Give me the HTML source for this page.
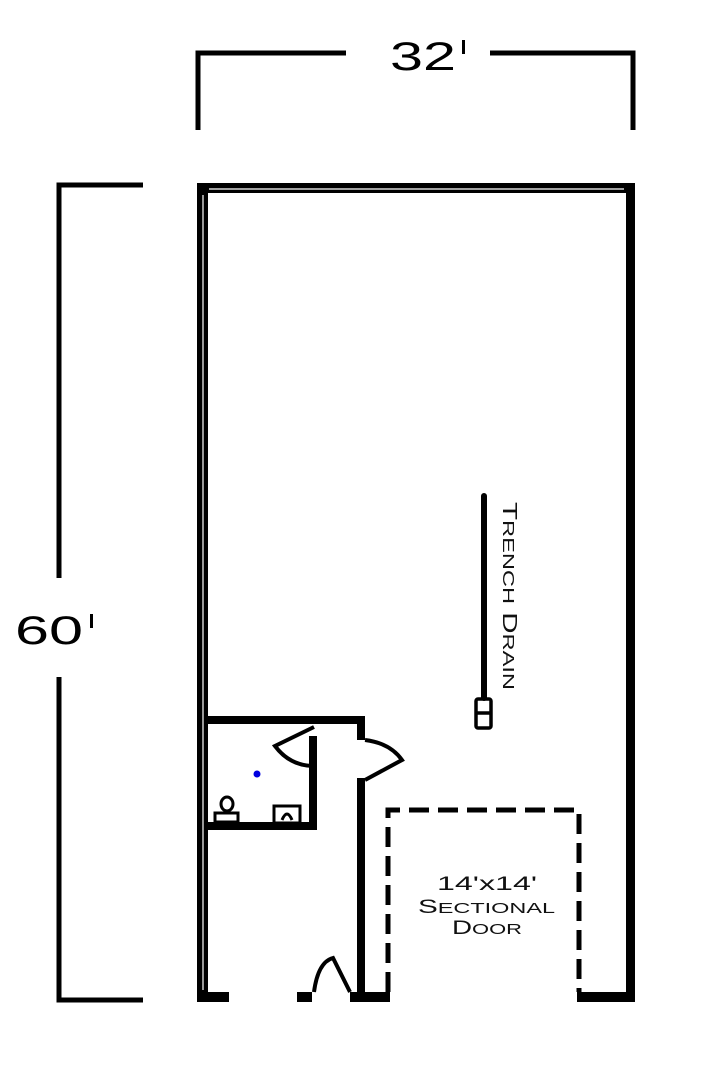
<!DOCTYPE html>
<html><head><style>body{margin:0;background:#fff}svg{display:block}</style></head><body>
<svg width="703" height="1080" viewBox="0 0 703 1080" xmlns="http://www.w3.org/2000/svg">
<g fill="none" stroke="#000" stroke-width="5">
<polyline points="198,130 198,53 346,53"/>
<polyline points="490,53 633,53 633,130"/>
<polyline points="143,185 59,185 59,578"/>
<polyline points="59,677 59,1000 143,1000"/>
</g>
<text x="390" y="70" font-family="Liberation Sans, sans-serif" font-size="40" textLength="66" lengthAdjust="spacingAndGlyphs">32</text>
<rect x="462" y="40" width="3" height="14" fill="#000"/>
<text x="15" y="644" font-family="Liberation Sans, sans-serif" font-size="40" textLength="68" lengthAdjust="spacingAndGlyphs">60</text>
<rect x="90" y="614" width="3" height="14" fill="#000"/>
<g fill="#000">
<rect x="197" y="183" width="438" height="10"/>
<rect x="197" y="183" width="11" height="819"/>
<rect x="626" y="183" width="9" height="819"/>
<rect x="197" y="992" width="32" height="10"/>
<rect x="297" y="992" width="15" height="10"/>
<rect x="350" y="992" width="40" height="10"/>
<rect x="577" y="992" width="58" height="10"/>
<rect x="205" y="716" width="160" height="8"/>
<rect x="357" y="716" width="8" height="24"/>
<rect x="357" y="778" width="8" height="214"/>
<rect x="309" y="736" width="8" height="94"/>
<rect x="205" y="822" width="112" height="8"/>
</g>
<g stroke="#fff" stroke-width="1.2">
<line x1="209" y1="189" x2="624" y2="189"/>
<line x1="203" y1="195" x2="203" y2="990"/>
<line x1="229" y1="997" x2="297" y2="997"/>
</g>
<g fill="none" stroke="#000" stroke-width="4">
<path d="M314,727 L275,746 Q290,766 314,766"/>
<path d="M365,740 Q390,743 402,760 L365,780"/>
<path d="M314,992 Q318,962 333,958 L350,992"/>
</g>
<circle cx="257" cy="774" r="3.5" fill="#0000e0"/>
<g fill="none" stroke="#000" stroke-width="3">
<ellipse cx="227" cy="804" rx="6" ry="7"/>
<rect x="215" y="813" width="23" height="9"/>
<rect x="274" y="806" width="26" height="17"/>
<path d="M282,820 Q287,808 292,820"/>
</g>
<line x1="484" y1="496" x2="484" y2="698" stroke="#000" stroke-width="6" stroke-linecap="round"/>
<rect x="476" y="699" width="15" height="29" rx="2" fill="none" stroke="#000" stroke-width="3.5"/>
<line x1="476" y1="713" x2="491" y2="713" stroke="#000" stroke-width="3.5"/>
<text transform="translate(503,502) rotate(90)" font-family="Liberation Sans, sans-serif" font-size="20" fill="#111" textLength="188" lengthAdjust="spacingAndGlyphs">T<tspan font-size="16">RENCH</tspan> D<tspan font-size="16">RAIN</tspan></text>
<g fill="none" stroke="#000" stroke-width="5" stroke-dasharray="20,9">
<polyline points="388,992 388,810 579,810 579,992"/>
</g>
<g font-family="Liberation Sans, sans-serif" fill="#111">
<text x="437" y="890" font-size="19" textLength="100" lengthAdjust="spacingAndGlyphs">14'x14'</text>
<text x="418" y="913" font-size="19" textLength="137" lengthAdjust="spacingAndGlyphs">S<tspan font-size="15">ECTIONAL</tspan></text>
<text x="452" y="934" font-size="19" textLength="70" lengthAdjust="spacingAndGlyphs">D<tspan font-size="15">OOR</tspan></text>
</g>
</svg>
</body></html>
